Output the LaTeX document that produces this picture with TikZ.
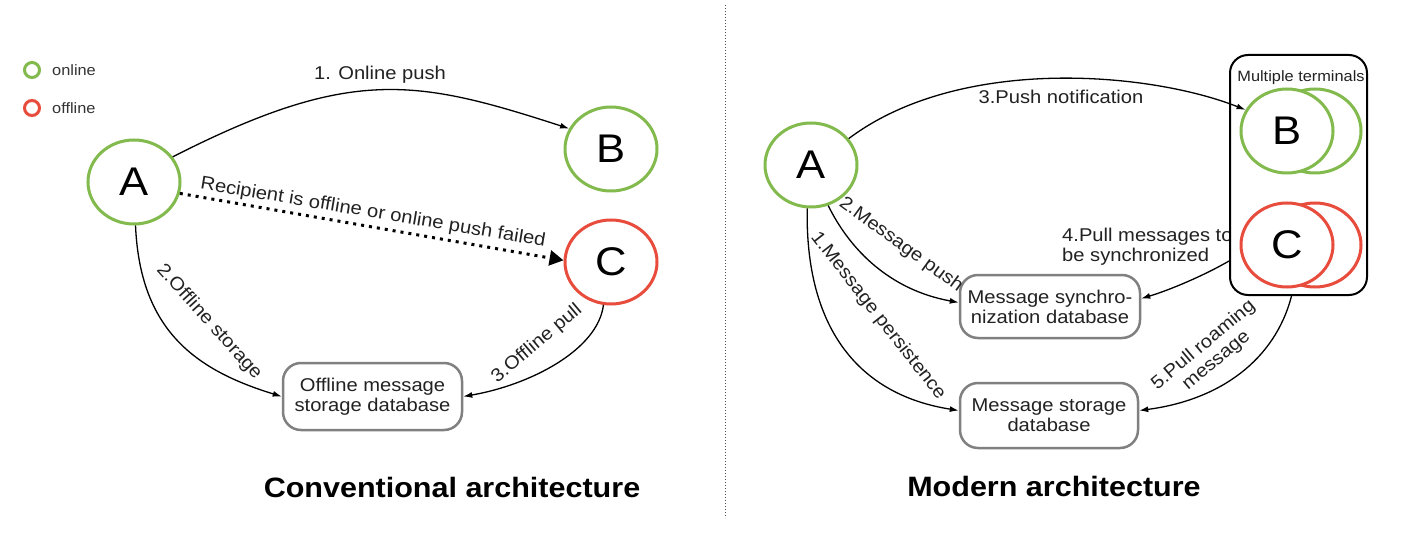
\documentclass[tikz,border=0pt]{standalone}
\usepackage{fontspec}
\setmainfont{Liberation Sans}[FakeStretch=1.09]
\usetikzlibrary{arrows.meta,shapes.geometric}
\definecolor{ongreen}{HTML}{82BA4D}
\definecolor{offred}{HTML}{E74C3C}
\definecolor{dbgray}{HTML}{808080}
\definecolor{txt}{HTML}{222222}
\begin{document}
\begin{tikzpicture}[x=1pt,y=-1pt,
  term/.style={ellipse, draw, line width=3pt, minimum width=92pt, minimum height=84pt, inner sep=0pt, fill=white, font=\fontsize{40}{40}\selectfont},
  onl/.style={term, draw=ongreen},
  offl/.style={term, draw=offred},
  db/.style={draw=dbgray, line width=2.5pt, rounded corners=18pt, fill=white, align=center, inner sep=0pt, font=\fontsize{18.5}{20}\selectfont, text=txt},
  lbl/.style={font=\fontsize{18.5}{20}\selectfont, text=txt, inner sep=0pt},
  conn/.style={line width=1.3pt, -{Latex[length=9pt,width=6pt]}},
  ttl/.style={font=\fontsize{28}{28}\selectfont\bfseries},
  leg/.style={circle, line width=3pt, minimum size=15pt, inner sep=0pt}
]
\useasboundingbox (0,0) rectangle (1414,548);
\fill[white] (0,0) rectangle (1414,548);

% legend
\node[leg, draw=ongreen] (lgon) at (32,70) {};
\node[lbl, anchor=west, font=\fontsize{15}{15}\selectfont, text=black!80] (lgontxt) at (52,70) {online};
\node[leg, draw=offred] (lgoff) at (32,108) {};
\node[lbl, anchor=west, font=\fontsize{15}{15}\selectfont, text=black!80] (lgofftxt) at (52,108) {offline};

% separator
\coordinate (septop) at (725,5);
\coordinate (sepbot) at (725,518);
\draw[line width=1pt, dash pattern=on 1pt off 2pt, black!70] (septop) -- (sepbot);

% ---------- left: conventional ----------
\node[onl] (LA) at (134,182) {A};
\node[onl] (LB) at (611,149) {B};
\node[offl] (LC) at (611,262) {C};
\node[db, minimum width=179pt, minimum height=67pt] (LDB) at (372.5,396.5) {Offline message\\storage database};

\draw[conn] (LA.33) .. controls (351,66) and (416,79) .. (LB.154);
\node[lbl] (lonline) at (380,75) {1. Online push};

\draw[line width=3pt, dash pattern=on 3pt off 5pt, -{Triangle[length=14pt,width=15pt]}] (LA.-14) -- (LC.178);
\node[lbl, rotate=-9.5] (lrecip) at (373,213) {Recipient is offline or online push failed};

\draw[conn] (LA.-88) .. controls (140,330) and (195,370) .. (LDB.west);
\node[lbl, rotate=-48] (lstore) at (209,322) {2.Offline storage};

\draw[conn] (LC.-100) .. controls (598,350) and (530,385) .. (LDB.east);
\node[lbl, rotate=40] (lpull) at (537,344) {3.Offline pull};

\node[ttl] (ltitle) at (452,487) {Conventional architecture};

% ---------- right: modern ----------
\node[onl] (RA) at (811,165) {A};
\node[db, minimum width=180pt, minimum height=63pt] (sync) at (1050,306.5) {Message synchro-\\nization database};
\node[db, minimum width=178pt, minimum height=65pt] (store) at (1049,415.5) {Message storage\\database};

\node[lbl, anchor=west, align=left] (rpullsync) at (1062,247) {4.Pull messages to\\be synchronized};

\node[draw, line width=2pt, rounded corners=18pt, minimum width=137pt, minimum height=240pt, fill=white, inner sep=0pt] (terms) at (1298.5,175) {};
\node[lbl, font=\fontsize{15}{15}\selectfont] (termslbl) at (1301,78) {Multiple terminals};
\node[term, draw=ongreen] (RB2) at (1315,131) {};
\node[onl] (RB) at (1287,131) {B};
\node[term, draw=offred] (RC2) at (1315,245) {};
\node[offl] (RC) at (1287,245) {C};

\draw[conn] (RA.35) .. controls (960,55) and (1150,72) .. (RB.153);
\node[lbl] (rpushn) at (1061,97) {3.Push notification};

\draw[conn] (RA.-67) .. controls (850,250) and (890,290) .. ([yshift=4pt]sync.west);
\node[lbl, rotate=-36] (rmpush) at (901,245) {2.Message push};

\draw[conn] (RA.-95) .. controls (805,330) and (860,395) .. ([yshift=5pt]store.west);
\node[lbl, rotate=-52] (rpersist) at (878,316) {1.Message persistence};

\draw[conn] ([yshift=35pt]terms.south west) .. controls (1205,275) and (1170,290) .. ([yshift=8pt]sync.east);

\draw[conn] ([xshift=-7pt]terms.south) .. controls (1275,360) and (1220,400) .. ([yshift=5pt]store.east);
\node[lbl, align=center, rotate=40] (rroam) at (1210,353) {5.Pull roaming\\message};

\node[ttl] (rtitle) at (1054,486) {Modern architecture};
\end{tikzpicture}
\end{document}
